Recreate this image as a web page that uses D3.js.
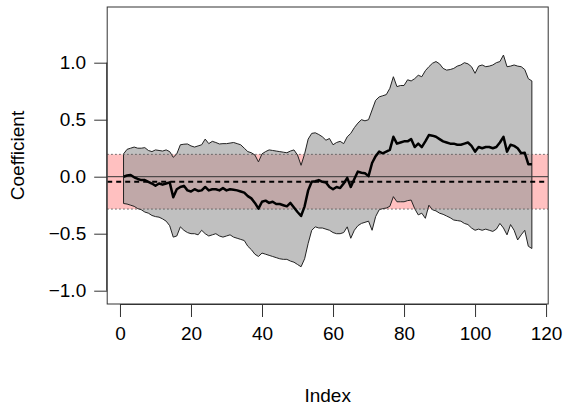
<!DOCTYPE html>
<html>
<head>
<meta charset="utf-8">
<title>coefficient index plot</title>
<script src="https://cdn.jsdelivr.net/npm/d3@7"></script>
<style>
  body{margin:0;background:#fff;}
  svg text{font-family:"Liberation Sans",Arial,sans-serif;fill:#000;}
</style>
</head>
<body>
<div id="container"></div>
<script>
// estimated coefficient path, index 1..116
var coef = [0.0,0.01,0.015,-0.005,-0.02,-0.03,-0.03,-0.045,-0.06,-0.08,
  -0.06,-0.07,-0.06,-0.05,-0.18,-0.11,-0.09,-0.08,-0.12,-0.13,
  -0.11,-0.125,-0.12,-0.09,-0.12,-0.11,-0.11,-0.12,-0.10,-0.12,
  -0.11,-0.115,-0.12,-0.13,-0.14,-0.17,-0.19,-0.23,-0.28,-0.22,
  -0.21,-0.23,-0.22,-0.24,-0.24,-0.25,-0.26,-0.23,-0.27,-0.31,
  -0.345,-0.26,-0.12,-0.045,-0.04,-0.03,-0.045,-0.05,-0.09,-0.11,
  -0.09,-0.10,-0.06,-0.01,-0.09,-0.02,0.045,0.035,0.03,0.005,
  0.12,0.18,0.22,0.205,0.22,0.235,0.35,0.29,0.30,0.31,
  0.31,0.33,0.26,0.29,0.26,0.31,0.365,0.36,0.35,0.33,
  0.31,0.30,0.29,0.29,0.28,0.28,0.29,0.30,0.27,0.22,
  0.26,0.25,0.26,0.26,0.25,0.26,0.30,0.35,0.22,0.28,
  0.27,0.25,0.205,0.21,0.11,0.11];

var upper = [0.20,0.24,0.25,0.26,0.25,0.25,0.255,0.23,0.22,0.235,
  0.23,0.225,0.235,0.22,0.17,0.20,0.28,0.285,0.287,0.27,
  0.26,0.27,0.28,0.33,0.29,0.31,0.30,0.287,0.29,0.29,
  0.295,0.30,0.29,0.28,0.25,0.22,0.21,0.19,0.13,0.20,
  0.22,0.235,0.23,0.225,0.22,0.215,0.21,0.225,0.235,0.19,
  0.10,0.20,0.33,0.38,0.385,0.37,0.35,0.32,0.335,0.28,
  0.30,0.31,0.29,0.35,0.38,0.43,0.47,0.50,0.49,0.50,
  0.585,0.67,0.70,0.71,0.72,0.775,0.877,0.79,0.80,0.80,
  0.85,0.84,0.86,0.89,0.877,0.93,0.965,0.995,1.01,0.99,
  0.95,0.935,0.94,0.95,0.97,0.98,1.0,0.99,0.965,0.907,
  0.97,0.98,0.965,0.97,0.98,1.0,1.01,1.067,0.965,0.97,
  0.98,0.97,0.965,0.94,0.86,0.84];

var lower = [-0.235,-0.24,-0.25,-0.26,-0.28,-0.29,-0.31,-0.32,-0.34,-0.35,
  -0.355,-0.37,-0.39,-0.43,-0.53,-0.52,-0.44,-0.47,-0.49,-0.50,
  -0.50,-0.51,-0.47,-0.50,-0.52,-0.51,-0.50,-0.52,-0.53,-0.52,
  -0.51,-0.53,-0.54,-0.55,-0.56,-0.61,-0.64,-0.68,-0.70,-0.67,
  -0.68,-0.69,-0.70,-0.71,-0.72,-0.725,-0.725,-0.74,-0.75,-0.77,
  -0.79,-0.72,-0.585,-0.47,-0.44,-0.45,-0.45,-0.46,-0.47,-0.49,
  -0.50,-0.50,-0.49,-0.44,-0.54,-0.47,-0.43,-0.41,-0.40,-0.39,
  -0.47,-0.35,-0.29,-0.28,-0.275,-0.26,-0.175,-0.22,-0.22,-0.22,
  -0.21,-0.205,-0.28,-0.335,-0.32,-0.365,-0.25,-0.29,-0.30,-0.32,
  -0.33,-0.345,-0.36,-0.38,-0.385,-0.39,-0.41,-0.42,-0.45,-0.47,
  -0.46,-0.47,-0.46,-0.47,-0.48,-0.46,-0.41,-0.45,-0.51,-0.42,
  -0.47,-0.555,-0.51,-0.47,-0.61,-0.63];

var meanLine = -0.044;
var band = [-0.284, 0.196];
var xTicks = [0,20,40,60,80,100,120];
var yTicks = [-1.0,-0.5,0.0,0.5,1.0];

var W = 566, H = 407;
var box = {left:107.2, right:548.2, top:7, bottom:304};

var svg = d3.select("#container").append("svg")
    .attr("width", W)
    .attr("height", H);

var xScale = d3.scaleLinear().domain([-3.6,120.6]).range([box.left, box.right]);
var yScale = d3.scaleLinear().domain([-1.1167,1.4886]).range([box.bottom, box.top]);

var pts = coef.map(function(c,i){ return {i:i+1, c:c, u:upper[i], l:lower[i]}; });

svg.append("clipPath").attr("id","plotclip")
  .append("rect")
  .attr("x",box.left).attr("y",box.top)
  .attr("width",box.right-box.left).attr("height",box.bottom-box.top);

var plot = svg.append("g").attr("clip-path","url(#plotclip)");

// pink band
plot.append("rect")
  .attr("x", box.left)
  .attr("width", box.right-box.left)
  .attr("y", yScale(band[1]))
  .attr("height", yScale(band[0]) - yScale(band[1]))
  .attr("fill", "#ffc0c0");

// confidence polygon
var poly = pts.map(function(d){ return [xScale(d.i), yScale(d.u)]; })
  .concat(pts.slice().reverse().map(function(d){ return [xScale(d.i), yScale(d.l)]; }));

plot.append("path")
  .attr("d", "M" + poly.join("L") + "Z")
  .attr("fill", "rgba(153,153,153,0.62)")
  .attr("stroke", "#222")
  .attr("stroke-width", 1)
  .attr("stroke-linejoin","round");

// band edges
band.forEach(function(v){
  plot.append("line")
    .attr("x1", box.left).attr("x2", box.right)
    .attr("y1", yScale(v)).attr("y2", yScale(v))
    .attr("stroke", "#555")
    .attr("stroke-width", 1)
    .attr("stroke-dasharray", "1.5,2.5");
});

// zero line
plot.append("line")
  .attr("x1", box.left).attr("x2", box.right)
  .attr("y1", yScale(0)).attr("y2", yScale(0))
  .attr("stroke", "#333")
  .attr("stroke-width", 1);

// mean line
plot.append("line")
  .attr("x1", box.left).attr("x2", box.right)
  .attr("y1", yScale(meanLine)).attr("y2", yScale(meanLine))
  .attr("stroke", "#000")
  .attr("stroke-width", 2)
  .attr("stroke-dasharray", "5,4");

var cline = d3.line()
  .x(function(d){ return xScale(d.i); })
  .y(function(d){ return yScale(d.c); });

plot.append("path")
  .datum(pts)
  .attr("d", cline)
  .attr("fill", "none")
  .attr("stroke", "#000")
  .attr("stroke-width", 2.5)
  .attr("stroke-linejoin","round");

// box
svg.append("rect")
  .attr("x", box.left).attr("y", box.top)
  .attr("width", box.right-box.left).attr("height", box.bottom-box.top)
  .attr("fill", "none")
  .attr("stroke", "#333")
  .attr("stroke-width", 1);

// axes
var xAxis = d3.axisBottom(xScale).tickValues(xTicks).tickSize(13).tickPadding(10)
  .tickFormat(d3.format("d"));
var yAxis = d3.axisLeft(yScale).tickValues(yTicks).tickSize(13).tickPadding(8)
  .tickFormat(d3.format(".1f"));

var gx = svg.append("g").attr("transform","translate(0,"+box.bottom+")").call(xAxis);
var gy = svg.append("g").attr("transform","translate("+box.left+",0)").call(yAxis);

gx.select(".domain").attr("d","M"+xScale(0)+",0.5H"+xScale(120));
gy.select(".domain").attr("d","M-0.5,"+yScale(-1)+"V"+yScale(1));
svg.selectAll(".domain").attr("stroke","#333");
svg.selectAll(".tick line").attr("stroke","#333");
svg.selectAll(".tick text").attr("font-size",19).attr("fill","#000")
  .attr("font-family","Liberation Sans, Arial, sans-serif");

svg.append("text")
  .attr("x", (box.left+box.right)/2)
  .attr("y", 402)
  .attr("text-anchor","middle")
  .attr("font-size",19)
  .text("Index");

svg.append("text")
  .attr("transform","translate(24,"+(box.top+box.bottom)/2+") rotate(-90)")
  .attr("text-anchor","middle")
  .attr("font-size",19)
  .text("Coefficient");
</script>
</body>
</html>
